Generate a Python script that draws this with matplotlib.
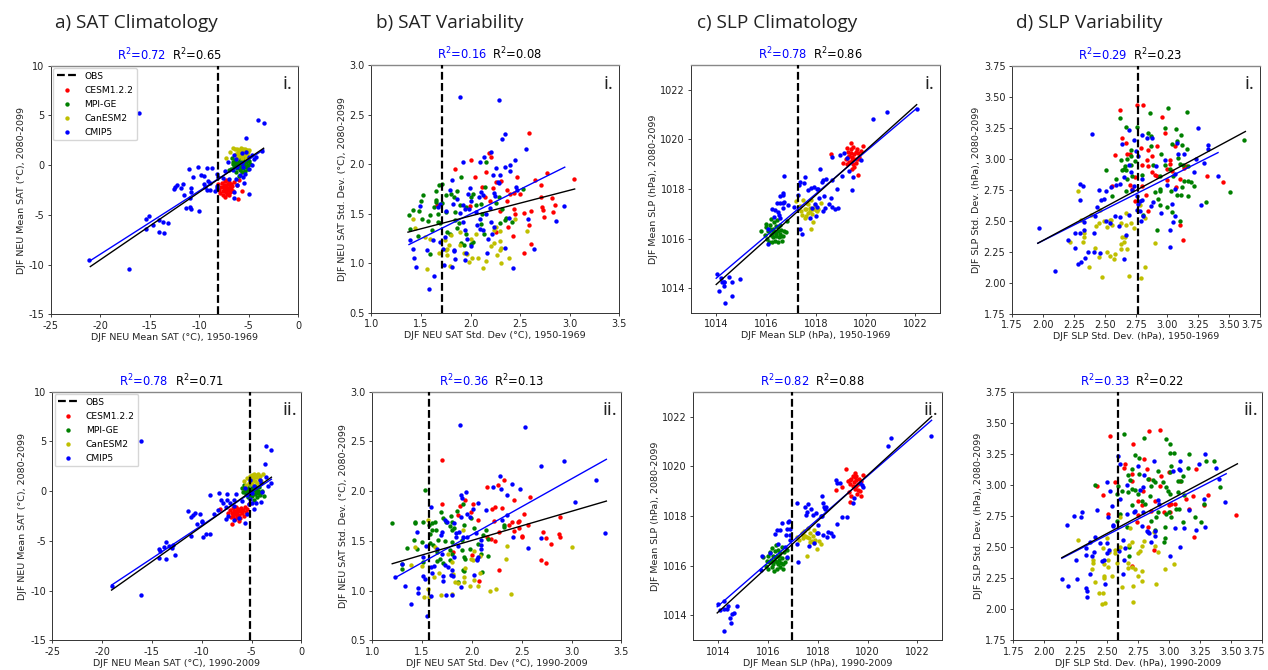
import numpy as np
import matplotlib
matplotlib.use("Agg")
import matplotlib.pyplot as plt
from matplotlib.transforms import ScaledTranslation

W, H = 1268, 670

# ---- a) SAT climatology, 1950-1969 ----
a1_cmip5 = [(-21.1,-9.57),(-17.1,-10.4),(-16.1,5.2),(-4.1,4.5),(-3.5,4.2),(-5.3,2.7),(-15.4,-6.45),(-15.4,-5.4),(-15.1,-5.1),(-14.1,-5.5),(-14.7,-6.0),(-14.1,-6.7),(-13.6,-6.85),(-13.7,-5.7),(-13.2,-5.85),(-11.3,-4.35),(-10.9,-4.25),(-10.8,-4.45),(-10.0,-4.6),(-11.5,-3.0),(-12.6,-2.4),(-12.4,-2.2),(-12.2,-2.0),(-11.85,-2.25),(-11.65,-1.9),(-10.8,-2.25),(-10.8,-2.7),(-10.9,-3.35),(-11.0,-0.4),(-10.6,-1.2),(-10.15,-0.2),(-9.8,-0.95),(-9.55,-1.1),(-9.2,-0.3),(-8.7,-0.3),(-9.5,-1.85),(-9.4,-2.15),(-9.1,-1.6),(-8.9,-1.75),(-9.25,-2.55),(-8.9,-2.55),(-8.45,-2.6),(-8.2,-0.9),(-8.1,-1.15),(-8.2,-2.3),(-8.25,-2.1),(-7.65,-1.3),(-7.4,-0.55),(-7.0,-1.4),(-7.1,0.3),(-6.45,1.0),(-5.7,1.2),(-5.3,1.35),(-6.3,0.6),(-4.95,0.85),(-4.65,1.05),(-4.5,0.65),(-4.3,0.85),(-3.7,1.45),(-4.65,0.05),(-5.0,-0.4),(-5.4,-0.9),(-5.45,-1.8),(-4.95,-2.9),(-6.45,-2.75),(-6.5,-3.3),(-6.2,-2.0),(-5.9,-1.0),(-6.55,-0.5),(-6.2,-0.15),(-5.7,0.2),(-5.55,-0.15),(-6.3,-1.35),(-5.55,-1.15)]
a1_cesm = [(-8.1,-1.9),(-8.0,-2.5),(-7.9,-2.8),(-7.8,-2.2),(-7.7,-1.8),(-7.65,-2.6),(-7.6,-3.0),(-7.5,-2.3),(-7.45,-1.6),(-7.4,-3.2),(-7.35,-2.0),(-7.3,-2.7),(-7.25,-1.5),(-7.2,-2.3),(-7.15,-2.9),(-7.1,-1.9),(-7.05,-2.5),(-7.0,-1.7),(-6.95,-3.0),(-6.9,-2.2),(-6.85,-2.7),(-6.8,-1.9),(-6.75,-2.4),(-6.7,-2.1),(-6.6,-2.6),(-6.5,-1.7),(-6.2,-2.0),(-6.0,-1.5),(-6.05,-3.4),(-5.7,-2.65),(-7.55,-2.0),(-7.25,-2.5),(-6.95,-2.3),(-7.4,-2.6)]
a1_mpi = [(-7.0,-0.5),(-6.8,-0.4),(-6.7,0.7),(-6.6,0.1),(-6.5,-0.2),(-6.4,0.5),(-6.3,-0.7),(-6.25,0.2),(-6.2,-0.3),(-6.1,0.6),(-6.05,0.0),(-6.0,-1.1),(-5.95,0.35),(-5.9,-0.5),(-5.85,0.8),(-5.8,-0.15),(-5.75,0.3),(-5.7,-0.7),(-5.6,0.5),(-5.55,-0.3),(-5.5,0.1),(-5.45,0.7),(-5.4,-0.6),(-5.3,0.3),(-5.25,-0.2),(-5.2,0.6),(-5.1,0.0),(-5.05,-0.4),(-5.0,0.4),(-4.9,0.15),(-6.35,0.0),(-6.0,0.25),(-5.7,0.05),(-5.35,-0.05),(-6.55,0.35),(-6.15,-0.05)]
a1_can = [(-7.25,0.75),(-6.9,1.3),(-6.6,1.7),(-6.4,1.6),(-6.3,1.1),(-6.2,1.65),(-6.1,1.3),(-6.0,0.9),(-5.95,1.55),(-5.85,1.2),(-5.8,1.75),(-5.7,0.7),(-5.65,1.4),(-5.6,1.6),(-5.5,1.0),(-5.45,1.3),(-5.4,1.65),(-5.3,0.75),(-5.2,1.5),(-5.15,1.1),(-5.05,1.3),(-4.95,1.55),(-5.6,1.2),(-5.9,1.0),(-6.15,0.75)]

# ---- a) SAT climatology, 1990-2009 ----
a2_cmip5 = [(-19,-9.57),(-16.06,-10.4),(-16.1,5.0),(-3.5,4.5),(-3,4.17),(-3.65,2.7),(-14.3,-5.85),(-14.2,-6),(-14.3,-6.7),(-13.8,-5.65),(-13.6,-5.1),(-13.6,-6.8),(-13.3,-5.5),(-13,-5.75),(-12.9,-5.4),(-12.7,-6.45),(-11.4,-2),(-11.1,-2.65),(-10.85,-2.4),(-10.7,-2.2),(-10.2,-2.25),(-11.05,-4.5),(-10.5,-3.3),(-10,-3.15),(-10,-3.05),(-9.85,-4.6),(-9.6,-4.3),(-9.15,-4.3),(-9.15,-0.4),(-8.8,-2.25),(-8.4,-1.9),(-8.3,-0.2),(-8.1,-0.9),(-7.9,-1.2),(-7.5,-0.3),(-7.5,-0.9),(-7.15,-1.2),(-6.8,-0.9),(-6.55,-0.3),(-7.6,-1.55),(-6.8,-1.45),(-7.55,-2.8),(-7.4,-2.55),(-6.8,-2.9),(-6.3,-2.75),(-6,-1),(-5.45,-2.3),(-5.7,-3.2),(-5.3,-1.25),(-4.75,-1.8),(-5,-1.2),(-4.5,-1.2),(-4,-1.05),(-5.15,-0.75),(-5.7,0.3),(-5.15,1.1),(-4.75,0.55),(-4.15,1.1),(-4,0.8),(-3.55,1.45),(-3.3,0.55),(-3,0.85),(-3.9,-0.05),(-4.9,-0.2),(-5.5,-0.4)]
a2_cesm = [(-8.2,-1.8),(-7,-3.35),(-6.25,-3),(-5.3,-1.3),(-7.4,-2.2),(-7.2,-1.9),(-7.1,-2.6),(-7.0,-2.2),(-6.9,-1.7),(-6.85,-2.5),(-6.75,-2.0),(-6.7,-2.8),(-6.6,-2.3),(-6.55,-1.6),(-6.5,-2.6),(-6.45,-2.1),(-6.4,-1.8),(-6.3,-2.4),(-6.2,-2.0),(-6.15,-2.7),(-6.1,-1.7),(-6.0,-2.2),(-5.9,-1.9),(-5.8,-2.5),(-5.7,-1.6),(-5.6,-2.1),(-5.5,-1.8),(-6.6,-2.0),(-6.35,-2.6),(-6.8,-2.3)]
a2_mpi = [(-6.0,0.3),(-5.9,-0.1),(-5.8,0.6),(-5.7,0.1),(-5.6,-0.3),(-5.5,0.4),(-5.4,-0.6),(-5.3,0.2),(-5.2,0.7),(-5.1,-0.2),(-5.0,0.3),(-4.9,-0.5),(-4.8,0.1),(-4.7,-0.9),(-4.65,0.5),(-4.6,-0.3),(-4.5,0.2),(-4.4,-0.6),(-4.3,0.0),(-4.2,0.45),(-4.1,-0.4),(-4.0,-0.1),(-3.9,0.05),(-3.75,-0.45),(-5.45,0.05),(-5.05,-0.05),(-4.55,-0.1),(-4.85,0.45),(-5.25,-0.4),(-4.35,-0.2)]
a2_can = [(-5.8,1.0),(-5.6,0.6),(-5.45,1.3),(-5.3,0.8),(-5.2,1.5),(-5.1,1.05),(-5.0,1.6),(-4.9,0.7),(-4.8,1.3),(-4.7,1.7),(-4.6,1.0),(-4.5,1.45),(-4.4,0.85),(-4.3,1.75),(-4.2,1.2),(-4.1,1.55),(-4.0,1.0),(-3.85,1.75),(-4.65,1.5),(-5.0,1.15),(-4.45,1.65)]

# ---- b) SAT variability, 1950-1969 ----
b1_cmip5 = [(1.89,2.68),(2.29,2.65),(2.35,2.3),(2.32,2.25),(2.56,2.15),(2.14,2.07),(2.21,2.12),(1.92,2.02),(2.1,2.02),(2.4,1.99),(2.4,1.93),(2.45,2.04),(2.26,1.96),(2.35,1.97),(2.23,1.89),(2.3,1.89),(2.28,1.82),(2.29,1.81),(1.81,1.84),(1.99,1.76),(1.79,1.74),(1.97,1.7),(2.11,1.72),(2.13,1.69),(2.09,1.67),(2.0,1.63),(1.92,1.59),(1.86,1.65),(1.82,1.6),(1.69,1.6),(1.67,1.57),(1.49,1.58),(1.75,1.53),(1.89,1.51),(1.94,1.55),(1.98,1.55),(2.06,1.52),(2.16,1.5),(2.2,1.56),(2.24,1.71),(2.25,1.68),(2.46,1.77),(2.47,1.74),(2.39,1.46),(2.58,1.45),(2.86,1.43),(2.94,1.58),(2.64,1.15),(2.43,0.95),(2.35,1.16),(1.39,1.24),(1.42,1.15),(1.43,1.05),(1.45,0.96),(1.56,1.14),(1.62,1.24),(1.63,0.87),(1.58,0.74),(1.69,1.22),(1.72,1.15),(1.73,0.98),(1.74,1.27),(1.81,0.96),(1.84,1.04),(1.83,1.14),(1.83,1.12),(1.94,1.34),(1.96,1.25),(1.92,1.42),(1.94,1.03),(1.95,1.1),(2.0,1.18),(2.07,1.39),(2.1,1.45),(2.1,1.35),(2.13,1.34),(2.18,1.25),(2.17,1.1),(2.21,1.42),(2.22,1.3),(2.24,1.37)]
b1_cesm = [(2.59,2.31),(1.84,1.95),(2.0,2.04),(2.05,1.87),(2.19,2.11),(2.21,2.07),(2.16,1.92),(2.47,1.87),(2.77,1.91),(3.04,1.85),(2.65,1.84),(2.71,1.79),(2.26,1.82),(2.31,1.83),(2.12,1.77),(2.23,1.76),(2.37,1.74),(2.4,1.7),(2.44,1.71),(2.5,1.7),(2.15,1.67),(2.2,1.63),(2.37,1.63),(2.71,1.67),(2.82,1.66),(1.99,1.58),(1.66,1.59),(2.3,1.53),(2.44,1.55),(2.61,1.53),(2.54,1.51),(2.45,1.5),(2.72,1.57),(2.73,1.54),(2.85,1.59),(2.83,1.52),(2.74,1.47),(2.38,1.37),(2.59,1.39),(2.26,1.32),(2.43,1.28),(2.61,1.2),(2.54,1.1)]
b1_mpi = [(1.38,1.49),(1.39,1.35),(1.42,1.54),(1.48,1.53),(1.5,1.63),(1.52,1.69),(1.47,1.28),(1.51,1.45),(1.57,1.43),(1.59,1.49),(1.59,1.09),(1.63,1.57),(1.65,1.73),(1.65,1.64),(1.65,1.62),(1.68,1.79),(1.71,1.8),(1.67,1.5),(1.67,1.42),(1.69,1.41),(1.61,1.34),(1.75,1.69),(1.8,1.7),(1.86,1.73),(1.83,1.67),(1.9,1.87),(1.71,1.61),(1.75,1.52),(1.84,1.52),(1.89,1.59),(1.95,1.57),(2.0,1.67),(2.03,1.7),(2.06,1.59),(2.16,2.02),(2.15,1.77),(2.11,1.6),(2.26,1.61),(2.29,1.67),(2.32,1.55),(2.53,1.75),(2.42,1.42),(2.36,1.46),(2.3,1.41),(2.35,1.44),(1.84,1.44),(1.88,1.41),(1.86,1.36),(1.76,1.32),(1.79,1.3),(1.9,1.21),(1.93,1.19),(1.95,1.3),(2.03,1.22),(2.0,1.2),(2.11,1.4),(2.14,1.3),(2.12,1.5)]
b1_can = [(1.56,0.94),(1.42,1.45),(1.44,1.36),(1.54,1.27),(1.59,1.25),(1.68,1.1),(1.74,1.24),(1.76,1.08),(1.8,1.29),(1.78,1.19),(1.76,1.15),(1.75,1.14),(1.79,0.97),(1.89,1.32),(1.89,1.19),(1.93,1.1),(1.98,1.01),(1.96,1.09),(2.02,1.05),(2.08,1.05),(2.0,1.25),(2.06,1.3),(2.13,0.95),(2.16,1.02),(2.21,1.18),(2.24,1.21),(2.27,1.08),(2.3,1.14),(2.31,1.16),(2.3,1.23),(2.31,1.0),(2.39,1.05),(2.57,1.33),(2.45,1.45),(2.26,1.37),(2.24,1.34),(2.3,1.33)]

# ---- b) SAT variability, 1990-2009 ----
b2_cmip5 = [(1.88,2.67),(2.53,2.64),(2.69,2.25),(2.92,2.3),(3.25,2.11),(3.04,1.89),(3.34,1.58),(2.28,2.15),(2.4,2.07),(2.21,2.04),(2.29,2.02),(2.48,2.02),(2.35,1.96),(1.94,1.99),(1.89,1.96),(1.9,1.93),(2.06,1.88),(2.14,1.81),(2.01,1.82),(1.59,1.84),(1.98,1.74),(1.95,1.77),(1.89,1.74),(2.35,1.76),(2.3,1.71),(2.41,1.54),(2.56,1.43),(2.69,1.53),(1.45,1.59),(1.7,1.59),(1.69,1.56),(1.73,1.71),(1.75,1.69),(1.82,1.68),(1.84,1.58),(1.87,1.59),(1.84,1.54),(1.86,1.45),(1.95,1.54),(2.04,1.58),(2.09,1.51),(2.09,1.46),(2.09,1.42),(1.65,1.42),(1.54,1.45),(1.51,1.34),(1.7,1.37),(1.82,1.34),(1.73,1.26),(1.76,1.24),(1.8,1.21),(1.23,1.14),(1.3,1.27),(1.33,1.05),(1.46,1.03),(1.46,0.98),(1.39,0.87),(1.51,1.15),(1.53,1.12),(1.55,0.74),(1.59,0.95),(1.74,0.96),(1.8,0.96),(1.89,1.04),(1.71,1.1),(1.71,1.15),(1.79,1.16),(1.81,1.15),(1.59,1.24),(1.62,1.25),(1.6,1.18),(2.02,1.16),(2.05,1.32),(2.05,1.31),(2.06,1.34),(1.91,1.54)]
b2_cesm = [(1.7,2.31),(2.32,2.11),(2.15,2.04),(2.26,2.06),(2.58,1.94),(2.42,1.91),(1.93,1.91),(1.7,1.87),(2.01,1.87),(1.88,1.85),(1.86,1.76),(1.99,1.79),(2.06,1.71),(2.2,1.82),(2.23,1.84),(2.3,1.83),(2.52,1.77),(2.88,1.74),(2.22,1.7),(2.37,1.66),(2.4,1.69),(2.47,1.7),(2.46,1.69),(2.47,1.63),(2.56,1.66),(2.42,1.6),(2.5,1.55),(2.5,1.54),(2.71,1.59),(2.74,1.53),(2.79,1.47),(2.87,1.57),(2.88,1.54),(2.69,1.31),(2.74,1.28),(2.27,1.21),(2.07,1.1),(1.81,1.39),(2.0,1.36),(2.15,1.54),(2.23,1.5),(2.27,1.59),(2.19,1.52)]
b2_mpi = [(1.2,1.68),(1.43,1.69),(1.43,1.68),(1.51,1.69),(1.35,1.43),(1.3,1.27),(1.3,1.22),(1.42,1.51),(1.45,1.42),(1.5,1.49),(1.53,2.01),(1.57,1.66),(1.58,1.57),(1.58,1.48),(1.51,1.29),(1.6,1.68),(1.63,1.69),(1.6,1.61),(1.64,1.61),(1.65,1.39),(1.61,1.46),(1.66,1.51),(1.69,1.79),(1.71,1.73),(1.74,1.69),(1.78,1.65),(1.79,1.75),(1.85,1.8),(1.91,1.87),(1.92,1.66),(1.8,1.69),(1.8,1.61),(1.82,1.63),(1.73,1.5),(1.8,1.49),(1.9,1.51),(1.98,1.42),(1.9,1.41),(1.65,1.3),(1.68,1.32),(1.71,1.28),(1.78,1.41),(1.78,1.31),(1.92,1.34),(1.93,1.32),(1.91,1.21),(1.92,1.2),(2.02,1.63),(1.99,1.73),(2.06,1.47),(2.11,1.56),(2.14,1.61),(2.16,1.52),(2.16,1.35),(2.1,1.19),(2.09,1.37),(2.32,1.66),(2.32,1.64),(1.86,1.09),(1.8,1.37)]
b2_can = [(1.56,1.71),(1.39,1.26),(1.43,1.44),(1.5,1.25),(1.52,0.94),(1.56,1.02),(1.57,0.94),(1.62,1.14),(1.67,1.18),(1.69,0.96),(1.8,0.97),(1.8,1.29),(1.81,1.17),(1.83,1.09),(1.86,1.08),(1.91,1.61),(1.92,1.14),(1.92,1.09),(1.93,1.23),(1.98,1.05),(1.99,1.32),(2.01,1.31),(2.02,1.11),(2.02,1.4),(2.06,1.05),(2.08,1.35),(2.18,1.0),(2.24,1.02),(2.39,0.97),(2.35,1.45),(2.34,1.32),(3.0,1.44),(2.08,1.18),(1.76,1.37),(1.63,1.44)]

# ---- c) SLP climatology, 1950-1969 ----
c1_cmip5 = [(1014.02,1014.58),(1014.1,1013.9),(1014.2,1014.4),(1014.25,1014.23),(1014.3,1014.23),(1014.3,1014.1),(1014.33,1014.23),(1014.35,1013.4),(1014.5,1014.45),(1014.65,1014.23),(1014.65,1013.7),(1014.97,1014.37),(1016.07,1015.8),(1016.07,1016.4),(1016.23,1017.2),(1016.36,1017.15),(1016.43,1017.42),(1016.56,1017.42),(1016.67,1017.42),(1016.72,1017.46),(1016.57,1017.72),(1016.68,1017.76),(1016.68,1017.84),(1016.72,1018.54),(1016.87,1017.36),(1016.7,1017.22),(1016.5,1017.09),(1016.53,1016.95),(1016.56,1016.82),(1016.32,1016.86),(1017.12,1017.29),(1017.28,1017.75),(1017.36,1018.3),(1017.34,1018.16),(1017.52,1018.25),(1017.55,1018.48),(1017.35,1016.38),(1017.46,1016.18),(1017.67,1017.95),(1017.8,1018.04),(1017.93,1018.09),(1018.03,1018.01),(1018.1,1017.98),(1018.14,1017.62),(1018.18,1018.82),(1018.23,1018.3),(1018.3,1018.36),(1018.4,1018.4),(1018.34,1017.7),(1018.6,1017.65),(1018.65,1018.36),(1018.86,1017.99),(1018.54,1017.38),(1018.64,1017.29),(1018.77,1017.18),(1018.88,1017.22),(1018.37,1017.22),(1018.27,1017.13),(1018.03,1017.29),(1017.97,1017.38),(1017.83,1017.22),(1017.77,1016.82),(1018,1016.91),(1018.66,1019.3),(1018.97,1019.37),(1019.14,1019.46),(1019.27,1019.26),(1019.05,1018.52),(1019.33,1018.72),(1019.5,1018.5),(1019.45,1017.96),(1019.83,1019.17),(1020.28,1020.82),(1020.87,1021.11),(1022.05,1021.22)]
c1_cesm = [(1018.61,1019.41),(1019.08,1019.05),(1019.24,1019.64),(1019.41,1019.86),(1019.71,1018.56),(1019.44,1018.79),(1019.2,1019.2),(1019.3,1019.5),(1019.35,1019.1),(1019.4,1019.6),(1019.45,1019.3),(1019.5,1019.7),(1019.55,1019.4),(1019.6,1019.2),(1019.65,1019.6),(1019.7,1019.45),(1019.75,1019.3),(1019.9,1019.72),(1019.35,1019.35),(1019.5,1019.0),(1019.55,1018.9),(1019.6,1019.05),(1019.25,1019.0),(1019.8,1019.55),(1019.5,1019.2),(1019.4,1019.45),(1019.6,1019.5),(1019.45,1019.15),(1019.3,1019.3),(1019.7,1019.2)]
c1_mpi = [(1015.8,1016.3),(1015.95,1016.15),(1016.0,1016.45),(1016.02,1016.6),(1016.05,1016.0),(1016.1,1016.3),(1016.12,1015.85),(1016.15,1016.55),(1016.2,1016.15),(1016.22,1016.8),(1016.25,1015.85),(1016.28,1016.4),(1016.3,1016.05),(1016.32,1016.65),(1016.35,1016.25),(1016.38,1015.9),(1016.4,1016.5),(1016.42,1016.1),(1016.45,1016.75),(1016.48,1016.3),(1016.5,1015.85),(1016.52,1016.05),(1016.55,1016.55),(1016.58,1016.2),(1016.6,1016.35),(1016.65,1015.9),(1016.7,1016.1),(1016.72,1016.3),(1016.8,1016.25),(1016.85,1016.7),(1016.18,1016.4),(1016.25,1016.2),(1016.4,1016.2),(1016.5,1016.45),(1016.3,1016.3),(1016.6,1016.1)]
c1_can = [(1017.2,1017.5),(1017.35,1017.3),(1017.4,1017.1),(1017.5,1017.55),(1017.55,1017.2),(1017.6,1016.9),(1017.65,1017.45),(1017.7,1017.05),(1017.75,1017.25),(1017.8,1016.4),(1017.8,1017.55),(1017.85,1017.0),(1017.9,1016.65),(1017.95,1017.35),(1018.0,1017.15),(1018.05,1017.1),(1018.1,1017.2),(1018.2,1017.45),(1017.6,1017.2),(1017.75,1017.1),(1017.45,1016.95),(1017.9,1017.2),(1017.55,1016.85),(1017.7,1017.4)]

# ---- c) SLP climatology, 1990-2009 ----
c2_cmip5 = [(1013.98,1014.45),(1014.07,1014.22),(1014.23,1014.58),(1014.23,1014.25),(1014.34,1014.25),(1014.4,1014.39),(1014.47,1013.91),(1014.51,1013.68),(1014.55,1014.06),(1014.65,1014.09),(1014.74,1014.38),(1014.22,1013.39),(1015.7,1015.83),(1015.77,1016.4),(1016.08,1016.5),(1016.28,1017.26),(1016.35,1017.44),(1016.48,1017.44),(1016.41,1016.86),(1016.57,1017.73),(1016.78,1017.49),(1016.82,1017.77),(1016.87,1017.48),(1016.84,1017.81),(1016.71,1017.24),(1016.88,1017.24),(1016.88,1017.03),(1016.68,1016.77),(1016.75,1016.36),(1017.19,1016.16),(1017.18,1018.54),(1017.16,1016.87),(1017.47,1018.38),(1017.62,1018.48),(1017.55,1018.17),(1017.51,1018.04),(1017.71,1018.27),(1017.82,1018.04),(1017.91,1018.11),(1017.65,1016.81),(1017.85,1016.9),(1018,1017.64),(1018.02,1017.33),(1017.95,1017.3),(1018.11,1018.01),(1018.18,1018.82),(1018.22,1018.51),(1018.25,1018.38),(1018.33,1018.38),(1018.29,1018.28),(1018.18,1018.01),(1018.19,1017.24),(1018.35,1017.14),(1018.42,1017.37),(1018.55,1017.3),(1018.62,1017.21),(1018.76,1017.66),(1018.98,1017.97),(1019.16,1017.97),(1018.73,1019.45),(1018.76,1019.34),(1018.89,1019.31),(1019.45,1018.74),(1019.4,1018.51),(1019.69,1019.31),(1019.76,1019.25),(1019.8,1019.18),(1020.8,1020.83),(1020.92,1021.12),(1022.56,1021.22)]
c2_cesm = [(1019.12,1019.88),(1018.73,1019.06),(1018.97,1019.17),(1019.29,1018.55),(1019.2,1019.4),(1019.25,1018.95),(1019.3,1019.3),(1019.35,1019.5),(1019.4,1019.2),(1019.42,1019.6),(1019.45,1019.35),(1019.48,1019.72),(1019.5,1019.1),(1019.52,1019.45),(1019.55,1019.6),(1019.58,1018.9),(1019.6,1019.3),(1019.65,1019.5),(1019.7,1019.0),(1019.72,1018.8),(1019.75,1019.4),(1019.8,1019.65),(1019.35,1018.8),(1019.55,1019.2),(1019.3,1019.45),(1019.6,1019.05),(1019.5,1019.55)]
c2_mpi = [(1015.8,1016.35),(1015.9,1016.0),(1015.95,1016.2),(1016.0,1015.85),(1016.02,1016.4),(1016.05,1016.15),(1016.1,1016.55),(1016.12,1016.25),(1016.15,1015.95),(1016.18,1016.7),(1016.2,1016.4),(1016.22,1016.05),(1016.25,1015.8),(1016.28,1016.6),(1016.3,1016.2),(1016.32,1016.82),(1016.35,1015.85),(1016.38,1016.4),(1016.4,1016.05),(1016.42,1016.65),(1016.45,1016.25),(1016.48,1015.95),(1016.5,1016.5),(1016.52,1016.1),(1016.55,1016.75),(1016.58,1016.3),(1016.6,1015.85),(1016.65,1016.55),(1016.7,1016.15),(1016.75,1016.65),(1016.78,1016.3),(1016.2,1016.2),(1016.35,1016.15),(1016.45,1016.4),(1016.3,1016.35),(1016.6,1016.05)]
c2_can = [(1017.15,1017.15),(1017.25,1017.05),(1017.35,1017.3),(1017.4,1017.1),(1017.45,1017.4),(1017.5,1017.2),(1017.55,1016.4),(1017.6,1017.5),(1017.65,1017.1),(1017.7,1017.3),(1017.75,1017.0),(1017.8,1017.2),(1017.85,1017.45),(1017.9,1017.05),(1017.98,1016.66),(1018.05,1017.0),(1018.13,1016.87),(1017.55,1017.15),(1017.7,1016.95),(1017.4,1017.25),(1017.85,1016.9)]

# ---- d) SLP variability, 1950-1969 ----
d1_cmip5 = [(1.97,2.44),(2.1,2.1),(2.2,2.35),(2.26,2.4),(2.26,2.28),(2.28,2.15),(2.31,2.17),(2.34,2.2),(2.36,2.25),(2.41,2.25),(2.46,2.24),(2.3,2.4),(2.33,2.43),(2.33,2.49),(2.3,2.8),(2.32,2.78),(2.3,2.67),(2.4,3.2),(2.45,2.75),(2.44,2.61),(2.47,2.67),(2.49,2.68),(2.51,2.74),(2.55,2.77),(2.59,2.79),(2.62,2.8),(2.42,2.54),(2.41,2.4),(2.51,2.5),(2.54,2.48),(2.58,2.54),(2.61,2.46),(2.62,2.53),(2.65,2.19),(2.67,2.39),(2.69,2.55),(2.65,2.85),(2.64,3.12),(2.69,3.23),(2.73,3.15),(2.75,3.06),(2.77,3.02),(2.69,2.95),(2.71,2.89),(2.72,2.75),(2.73,2.78),(2.76,2.7),(2.77,2.64),(2.76,2.59),(2.78,2.58),(2.8,3.19),(2.84,3.17),(2.88,3.17),(2.8,2.84),(2.78,2.66),(2.8,2.67),(2.87,2.62),(2.89,2.65),(2.79,2.5),(2.81,2.54),(2.91,2.94),(2.98,2.99),(3,2.79),(2.95,2.56),(3.02,2.43),(3.02,2.29),(3.05,2.49),(3.04,2.64),(3.06,2.76),(3.06,2.54),(3.06,2.88),(3.08,3.13),(3.09,3.04),(3.14,3.04),(3.22,2.89),(3.23,3),(3.25,3.25),(3.27,2.63),(3.3,2.97),(3.33,3.08),(3.33,3.11),(3.41,2.86)]
d1_cesm = [(2.62,3.39),(2.76,3.43),(2.81,3.43),(2.96,3.34),(2.98,3.21),(2.64,3.17),(2.67,3.13),(2.58,3.03),(2.68,3.04),(2.7,3.04),(2.92,3.1),(2.85,3.07),(2.79,3.09),(2.88,3.02),(2.84,2.99),(2.8,2.95),(2.85,2.94),(2.88,2.89),(2.74,2.85),(2.9,2.87),(2.92,2.86),(3,2.92),(3.02,2.99),(3.02,2.96),(3.06,3.1),(3.15,2.94),(3.14,2.93),(3.04,2.9),(3.1,2.84),(3.32,2.86),(3.45,2.81),(3.07,2.77),(3.0,2.83),(2.7,2.79),(2.72,2.76),(2.56,2.78),(2.8,2.78),(2.83,2.71),(2.74,2.66),(2.85,2.58),(3.1,2.47),(3.13,2.35)]
d1_mpi = [(3.62,3.15),(3.51,2.73),(3.31,2.65),(2.62,3.33),(2.67,3.26),(2.76,3.26),(2.86,3.37),(3.01,3.41),(3.16,3.38),(2.98,3.25),(3.07,3.24),(3.11,3.19),(2.85,3.21),(2.87,3.18),(2.87,3.1),(3.04,3.12),(3.08,3.14),(3.12,3.11),(3.16,3.08),(2.95,3.04),(3.09,3.01),(2.71,3.07),(2.63,2.99),(2.68,3),(2.71,3.02),(2.74,2.98),(2.71,2.95),(2.51,2.91),(2.59,2.84),(2.66,2.94),(2.64,2.91),(2.67,2.91),(2.65,2.92),(2.68,2.84),(2.72,2.86),(2.8,2.87),(2.89,2.95),(2.98,2.95),(3.02,2.92),(3.1,2.96),(3.13,2.95),(3.17,2.94),(2.94,2.86),(3.05,2.86),(3.14,2.82),(3.17,2.82),(3.19,2.81),(3.22,2.78),(3.12,2.77),(3.08,2.71),(3.11,2.71),(3.17,2.7),(3.03,2.74),(2.94,2.76),(2.9,2.73),(2.94,2.74),(2.67,2.74),(2.56,2.7),(2.93,2.68),(3.0,2.61),(2.94,2.63),(3.04,2.57),(3.1,2.5),(2.92,2.43),(2.81,2.55)]
d1_can = [(2.28,2.74),(2.22,2.33),(2.32,2.33),(2.33,2.4),(2.33,2.37),(2.42,2.28),(2.37,2.13),(2.45,2.21),(2.48,2.05),(2.52,2.25),(2.54,2.22),(2.58,2.23),(2.57,2.19),(2.69,2.06),(2.79,2.04),(2.82,2.13),(2.9,2.32),(2.68,2.27),(2.63,2.27),(2.63,2.31),(2.64,2.37),(2.66,2.37),(2.65,2.33),(2.46,2.59),(2.39,2.55),(2.31,2.51),(2.43,2.46),(2.45,2.48),(2.49,2.5),(2.52,2.45),(2.54,2.51),(2.56,2.47),(2.55,2.51),(2.63,2.48),(2.67,2.47),(2.71,2.48),(2.73,2.44),(2.67,2.56),(2.78,2.63),(2.82,2.52)]

# ---- d) SLP variability, 1990-2009 ----
d2_cmip5 = [(2.14,2.24),(2.19,2.19),(2.26,2.24),(2.33,2.17),(2.34,2.15),(2.34,2.1),(2.37,2.28),(2.25,2.4),(2.33,2.44),(2.38,2.43),(2.4,2.46),(2.33,2.49),(2.37,2.54),(2.41,2.58),(2.18,2.68),(2.24,2.75),(2.29,2.74),(2.3,2.78),(2.42,2.8),(2.45,2.53),(2.5,2.53),(2.46,2.39),(2.48,2.4),(2.49,2.2),(2.5,2.45),(2.52,2.48),(2.51,2.74),(2.5,3.02),(2.53,2.95),(2.54,2.83),(2.55,2.68),(2.55,2.67),(2.59,3.23),(2.61,3.17),(2.61,2.89),(2.6,2.47),(2.63,2.56),(2.63,2.28),(2.64,2.4),(2.65,2.49),(2.66,3),(2.66,2.77),(2.72,2.78),(2.73,2.79),(2.75,3.15),(2.77,2.96),(2.79,2.98),(2.8,3.08),(2.88,3.19),(2.78,2.67),(2.82,2.63),(2.83,2.62),(2.84,2.61),(2.79,2.78),(2.86,2.54),(2.89,2.63),(2.89,2.59),(2.91,2.88),(2.92,2.85),(3.01,2.43),(3.03,3.11),(3.05,2.65),(3.09,2.5),(3.08,3.13),(3.09,3.12),(3.09,3.19),(3.12,2.65),(3.16,2.8),(3.22,2.64),(3.24,3.17),(3.28,2.89),(3.29,2.66),(3.29,3.25),(3.38,3.14),(3.4,3.05),(3.45,2.86)]
d2_cesm = [(2.53,3.39),(2.84,3.43),(2.93,3.44),(2.71,3.33),(2.8,3.21),(2.65,3.17),(2.64,3.14),(2.82,3.13),(2.7,3.09),(2.57,3.02),(2.42,2.99),(2.47,2.92),(2.51,2.77),(2.7,3.03),(2.79,2.95),(2.84,3.05),(2.94,3.07),(2.93,2.99),(3,3.1),(3.09,3.03),(3.22,3.13),(2.75,2.87),(2.78,2.84),(2.75,2.76),(2.74,2.7),(2.83,2.66),(2.89,2.87),(3,2.84),(3.02,2.85),(3.05,2.85),(2.96,2.78),(3.01,2.78),(2.86,2.79),(3.14,2.89),(3.16,2.81),(3.19,2.91),(3.31,2.92),(3.28,2.84),(3.54,2.76),(3.2,2.58),(2.88,2.48),(2.7,2.35)]
d2_mpi = [(2.41,3),(2.64,3.41),(2.8,3.38),(2.98,3.37),(3.01,3.33),(2.73,3.24),(3.01,3.26),(3.04,3.26),(3.16,3.25),(3.36,3.19),(3.3,3.19),(2.76,3.22),(3.02,3.15),(3.15,3.14),(2.7,3.13),(2.91,3.11),(2.76,3.09),(2.67,3.08),(2.69,3.04),(3.11,3.07),(3.01,3.1),(2.83,3.05),(2.87,3.04),(2.89,3.02),(2.95,3.02),(3.41,2.98),(3.07,3.03),(3.1,3.03),(2.86,2.99),(2.98,2.98),(2.7,2.97),(2.59,2.99),(2.62,2.95),(2.58,2.93),(2.67,2.94),(2.73,2.96),(2.75,2.93),(2.99,2.95),(3.01,2.93),(3.07,2.94),(3.12,2.92),(2.7,2.84),(2.78,2.87),(2.81,2.85),(2.85,2.91),(2.91,2.78),(2.98,2.77),(3.0,2.78),(3.02,2.74),(3.06,2.81),(3.08,2.81),(3.28,2.85),(3.21,2.74),(3.26,2.7),(3.11,2.7),(2.61,2.77),(2.58,2.71),(2.86,2.71),(2.9,2.74),(2.97,2.66),(2.89,2.64),(2.96,2.54),(2.97,2.57),(2.68,2.5),(2.68,2.43),(2.66,2.66)]
d2_can = [(2.27,2.56),(2.39,2.4),(2.39,2.37),(2.38,2.32),(2.41,2.22),(2.44,2.13),(2.47,2.13),(2.46,2.04),(2.49,2.05),(2.48,2.25),(2.48,2.27),(2.54,2.27),(2.51,2.34),(2.48,2.36),(2.47,2.49),(2.5,2.57),(2.51,2.4),(2.52,2.46),(2.57,2.48),(2.57,2.45),(2.58,2.37),(2.61,2.5),(2.62,2.18),(2.67,2.33),(2.67,2.37),(2.69,2.65),(2.61,2.74),(2.68,2.52),(2.7,2.54),(2.71,2.19),(2.71,2.06),(2.75,2.27),(2.75,2.45),(2.77,2.47),(2.78,2.51),(2.78,2.23),(2.78,2.31),(2.8,2.55),(2.89,2.51),(2.88,2.62),(2.91,2.46),(2.9,2.2),(2.97,2.32),(3.04,2.36),(2.7,2.34),(2.73,2.32)]

# regression line ends and observed value of each panel
a1_blue = ([-21.0, -3.5], [-9.6, 1.55])
a1_black = ([-21.0, -3.5], [-10.2, 1.7])
a1_obs = -8.1
a2_blue = ([-19.05, -3.0], [-9.45, 1.2])
a2_black = ([-19.05, -3.0], [-9.95, 1.4])
a2_obs = -5.2
b1_blue = ([1.38, 2.95], [1.19, 1.97])
b1_black = ([1.37, 3.05], [1.315, 1.75])
b1_obs = 1.71
b2_blue = ([1.23, 3.35], [1.13, 2.32])
b2_black = ([1.2, 3.35], [1.27, 1.9])
b2_obs = 1.565
c1_blue = ([1014.0, 1022.05], [1014.4, 1021.25])
c1_black = ([1014.0, 1022.05], [1014.15, 1021.4])
c1_obs = 1017.27
c2_blue = ([1013.96, 1022.57], [1014.35, 1021.85])
c2_black = ([1013.96, 1022.57], [1014.1, 1022.0])
c2_obs = 1016.95
d1_blue = ([1.96, 3.41], [2.32, 3.05])
d1_black = ([1.96, 3.63], [2.32, 3.22])
d1_obs = 2.77
d2_blue = ([2.14, 3.46], [2.41, 3.09])
d2_black = ([2.14, 3.55], [2.415, 3.17])
d2_obs = 2.59

sat_mean_xticks = [-25, -20, -15, -10, -5, 0]
sat_mean_yticks = [-15, -10, -5, 0, 5, 10]
sat_std_xticks = [1.0, 1.5, 2.0, 2.5, 3.0, 3.5]
sat_std_yticks = [0.5, 1.0, 1.5, 2.0, 2.5, 3.0]
slp_mean_ticks = [1014, 1016, 1018, 1020, 1022]
slp_std_ticks = [1.75, 2.00, 2.25, 2.50, 2.75, 3.00, 3.25, 3.50, 3.75]

plt.rcParams['font.size'] = 6.6
plt.rcParams['mathtext.default'] = 'regular'

TXT = '#222222'


def add_panel(box, pts, blue, black, obs, r2, xlim, ylim, xticks, yticks, fmt, xlabel, ylabel, tag, legend=False):
    left, top, right, bottom = box
    ax = plt.gcf().add_axes([left / W, 1 - bottom / H, (right - left) / W, (bottom - top) / H])
    ax.axvline(obs, color='k', ls='--', lw=1.6, dashes=(3.5, 1.5), label='OBS', zorder=3)
    # same drawing order as the legend
    for p, c, name in zip(pts, ['r', 'g', 'y', 'b'], ['CESM1.2.2', 'MPI-GE', 'CanESM2', 'CMIP5']):
        xy = np.array(p)
        ax.scatter(xy[:, 0], xy[:, 1], s=10, c=c, linewidths=0, label=name, zorder=2)
    ax.plot(blue[0], blue[1], color='b', lw=1.0, zorder=4)
    ax.plot(black[0], black[1], color='k', lw=1.0, zorder=5)
    ax.set_xlim(xlim)
    ax.set_ylim(ylim)
    ax.set_xticks(xticks)
    ax.set_yticks(yticks)
    ax.set_xticklabels([fmt % v for v in xticks])
    ax.set_yticklabels([fmt % v for v in yticks])
    ax.tick_params(length=2.5, width=0.6, labelsize=7, pad=2, colors=TXT)
    ax.set_xlabel(xlabel, fontsize=6.8, labelpad=1.5, color=TXT)
    ax.set_ylabel(ylabel, fontsize=6.8, labelpad=2, color=TXT)
    for s in ax.spines.values():
        s.set_linewidth(0.7)
        s.set_color('#333333')
    ax.spines['top'].set_color('#888888')
    ax.spines['top'].set_linewidth(1.0)
    ax.text(0.367, 1.045, 'R$^2$=%.2f' % r2[0], color='b', fontsize=8.3, ha='center', va='center', transform=ax.transAxes)
    ax.text(0.589, 1.045, 'R$^2$=%.2f' % r2[1], color='k', fontsize=8.3, ha='center', va='center', transform=ax.transAxes)
    ax.text(0.955, 0.925, tag, fontsize=14, family='Open Sans', color='#222222', ha='center', va='center', transform=ax.transAxes)
    if legend:
        ax.legend(loc='upper left', fontsize=6.6, framealpha=0.8, borderpad=0.4,
                  labelspacing=0.55, handlelength=2.2, bbox_to_anchor=(0.0, 1.0), borderaxespad=0.25,
                  edgecolor='#cccccc').set_zorder(10)
    return ax


fig = plt.figure(figsize=(W / 100, H / 100), dpi=100)

d_i = '%d'
f1 = '%.1f'
f2 = '%.2f'
add_panel((50.7, 65.7, 298.3, 314.3), (a1_cesm, a1_mpi, a1_can, a1_cmip5), a1_blue, a1_black, a1_obs, (0.72, 0.65),
          (-25, 0), (-15, 10), sat_mean_xticks, sat_mean_yticks, d_i,
          'DJF NEU Mean SAT (°C), 1950-1969', 'DJF NEU Mean SAT (°C), 2080-2099', 'i.', legend=True)
add_panel((52.3, 391.7, 301.3, 640.3), (a2_cesm, a2_mpi, a2_can, a2_cmip5), a2_blue, a2_black, a2_obs, (0.78, 0.71),
          (-25, 0), (-15, 10), sat_mean_xticks, sat_mean_yticks, d_i,
          'DJF NEU Mean SAT (°C), 1990-2009', 'DJF NEU Mean SAT (°C), 2080-2099', 'ii.', legend=True)
add_panel((371.3, 65, 619.3, 313), (b1_cesm, b1_mpi, b1_can, b1_cmip5), b1_blue, b1_black, b1_obs, (0.16, 0.08),
          (1, 3.5), (0.5, 3), sat_std_xticks, sat_std_yticks, f1,
          'DJF NEU SAT Std. Dev (°C), 1950-1969', 'DJF NEU SAT Std. Dev. (°C), 2080-2099', 'i.')
add_panel((372.3, 391.7, 621.3, 640.3), (b2_cesm, b2_mpi, b2_can, b2_cmip5), b2_blue, b2_black, b2_obs, (0.36, 0.13),
          (1, 3.5), (0.5, 3), sat_std_xticks, sat_std_yticks, f1,
          'DJF NEU SAT Std. Dev (°C), 1990-2009', 'DJF NEU SAT Std. Dev. (°C), 2080-2099', 'ii.')
add_panel((691.3, 65, 940.3, 313), (c1_cesm, c1_mpi, c1_can, c1_cmip5), c1_blue, c1_black, c1_obs, (0.78, 0.86),
          (1013, 1023), (1013, 1023), slp_mean_ticks, slp_mean_ticks, d_i,
          'DJF Mean SLP (hPa), 1950-1969', 'DJF Mean SLP (hPa), 2080-2099', 'i.')
add_panel((693.3, 391.7, 942.3, 640.3), (c2_cesm, c2_mpi, c2_can, c2_cmip5), c2_blue, c2_black, c2_obs, (0.82, 0.88),
          (1013, 1023), (1013, 1023), slp_mean_ticks, slp_mean_ticks, d_i,
          'DJF Mean SLP (hPa), 1990-2009', 'DJF Mean SLP (hPa), 2080-2099', 'ii.')
ax_d1 = add_panel((1011.7, 65.7, 1260.3, 314), (d1_cesm, d1_mpi, d1_can, d1_cmip5), d1_blue, d1_black, d1_obs, (0.29, 0.23),
                  (1.75, 3.75), (1.75, 3.75), slp_std_ticks, slp_std_ticks, f2,
                  'DJF SLP Std. Dev. (hPa), 1950-1969', 'DJF SLP Std. Dev. (hPa), 2080-2099', 'i.')
ax_d2 = add_panel((1013.3, 391.7, 1262.3, 640.3), (d2_cesm, d2_mpi, d2_can, d2_cmip5), d2_blue, d2_black, d2_obs, (0.33, 0.22),
                  (1.75, 3.75), (1.75, 3.75), slp_std_ticks, slp_std_ticks, f2,
                  'DJF SLP Std. Dev. (hPa), 1990-2009', 'DJF SLP Std. Dev. (hPa), 2080-2099', 'ii.')

# last x label of the d) panels would run off the right edge
for ax in (ax_d1, ax_d2):
    lab = ax.get_xticklabels()[-1]
    lab.set_transform(lab.get_transform() + ScaledTranslation(-8 / 100, 0, fig.dpi_scale_trans))

# column headings
for label, x in zip(['a) SAT Climatology', 'b) SAT Variability', 'c) SLP Climatology', 'd) SLP Variability'], [55, 376, 697, 1016]):
    fig.text(x / W, 1 - 22.5 / H, label, fontsize=13.7, family='Open Sans', color='#222222', ha='left', va='center')

fig.savefig('out.png', dpi=100)
